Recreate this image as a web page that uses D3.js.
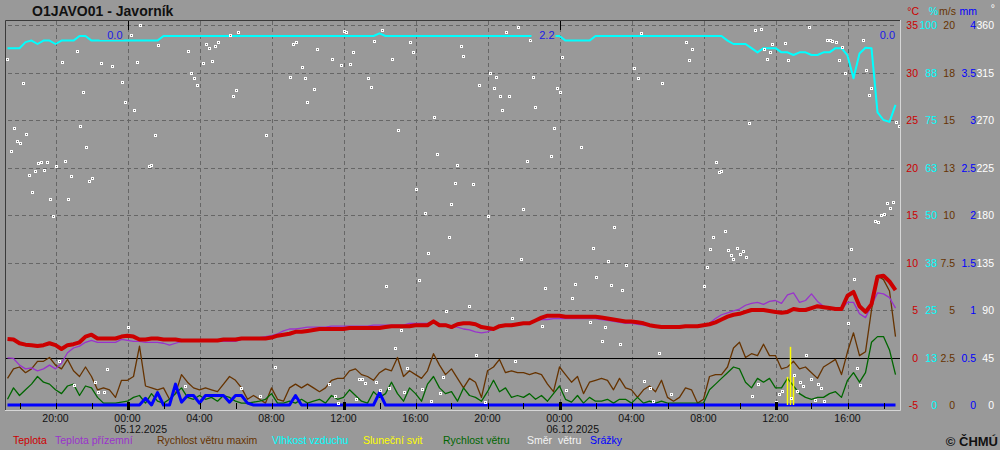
<!DOCTYPE html>
<html>
<head>
<meta charset="utf-8">
<script src="https://cdn.jsdelivr.net/npm/d3@7"></script>
<style>
body { margin: 0; background: #999999; }
svg { display: block; font-family: "Liberation Sans", Arial, sans-serif; }
</style>
</head>
<body>
<script>
// measured every 20 minutes from 04.12.2025 17:20
var startTime = "2025-12-04 17:20";
var stepMinutes = 20;

var teplota = [
  1.95, 1.9, 1.5, 1.35, 1.3, 1.2, 1.3, 1.5, 1.3, 0.9,
  1.3, 1.4, 1.6, 2.2, 2.4, 2.0, 2.0, 2.0, 2.0, 2.2,
  2.3, 2.2, 1.9, 1.9, 2.0, 2.0, 1.9, 1.9, 1.9, 1.8,
  1.8, 1.8, 1.8, 1.8, 1.8, 1.8, 1.9, 1.9, 1.9, 2.0,
  2.0, 2.0, 2.0, 2.0, 2.1, 2.3, 2.4, 2.5, 2.7, 2.7,
  2.8, 2.9, 3.0, 3.0, 3.0, 3.0, 3.0, 3.1, 3.1, 3.1,
  3.1, 3.1, 3.1, 3.2, 3.3, 3.3, 3.3, 3.3, 3.4, 3.4,
  3.4, 3.8, 3.4, 3.4, 3.2, 3.5, 3.6, 3.6, 3.5, 3.2,
  3.1, 3.0, 3.3, 3.4, 3.4, 3.5, 3.6, 3.6, 3.9, 4.2,
  4.4, 4.4, 4.4, 4.3, 4.3, 4.3, 4.3, 4.3, 4.3, 4.2,
  4.1, 4.0, 3.9, 3.8, 3.8, 3.7, 3.6, 3.4, 3.3, 3.2,
  3.2, 3.2, 3.2, 3.3, 3.3, 3.3, 3.4, 3.5, 3.7, 4.0,
  4.3, 4.5, 4.6, 4.8, 5.0, 5.0, 5.0, 4.9, 4.8, 4.7,
  4.8, 5.1, 5.0, 5.0, 5.2, 5.4, 5.3, 5.2, 5.1, 5.1,
  6.5, 6.9, 5.4, 4.8, 5.6, 8.5, 8.6, 8.0, 7.1
];
var teplotaPrizemni = [
  -0.05, -0.1, -0.8, -1.2, -1.1, -1.4, -1.2, -0.8, -1.2, -0.6,
  0.5, 1.0, 1.2, 1.6, 1.8, 1.6, 1.6, 1.6, 1.6, 1.9,
  1.8, 1.7, 1.7, 1.6, 1.6, 1.6, 1.5, 1.3, 1.5, 1.7,
  1.7, 1.7, 1.7, 1.7, 1.7, 1.7, 1.7, 1.7, 1.7, 1.9,
  1.9, 2.0, 2.1, 2.2, 2.3, 2.5, 2.8, 3.0, 3.0, 3.1,
  3.2, 3.2, 3.2, 3.2, 3.3, 3.3, 3.3, 3.3, 3.3, 3.3,
  3.3, 3.4, 3.4, 3.4, 3.4, 3.4, 3.4, 3.6, 3.6, 3.6,
  3.6, 3.7, 3.5, 3.5, 3.3, 3.2, 3.0, 2.9, 2.7, 2.6,
  2.7, 3.0, 3.3, 3.4, 3.5, 3.5, 3.6, 3.7, 3.9, 4.0,
  4.0, 4.1, 4.1, 4.1, 4.1, 4.1, 4.1, 4.1, 4.1, 4.0,
  3.9, 3.8, 3.7, 3.6, 3.6, 3.5, 3.4, 3.3, 3.2, 3.2,
  3.2, 3.2, 3.2, 3.3, 3.3, 3.3, 3.4, 3.6, 4.1, 4.5,
  4.7, 4.9, 5.1, 5.5, 5.7, 5.8, 5.6, 5.9, 6.0, 5.7,
  6.6, 6.8, 5.8, 6.0, 6.7, 5.9, 5.4, 5.2, 5.1, 5.1,
  5.8, 5.8, 4.6, 4.2, 5.5, 6.8, 6.7, 6.3, 5.2
];
var rychlostMax = [
  1.4, 1.9, 2.0, 1.7, 1.9, 2.3, 2.3, 2.5, 2.1, 1.9,
  2.4, 1.8, 1.5, 2.0, 1.5, 0.8, 0.9, 0.8, 0.4, 1.3,
  1.3, 1.5, 3.1, 1.0, 0.9, 0.8, 0.9, 0.3, 0.6, 1.6,
  1.2, 0.9, 0.8, 0.9, 0.8, 0.7, 1.1, 1.5, 1.3, 0.9,
  0.3, 0.5, 0.3, 0.1, 0.9, 0.3, 0.2, 0.9, 1.1, 0.9,
  1.1, 0.9, 0.7, 0.9, 1.3, 1.4, 1.4, 1.8, 1.9, 1.6,
  1.5, 1.3, 1.7, 1.9, 1.8, 2.5, 1.5, 1.8, 1.6, 1.4,
  1.8, 2.7, 2.1, 1.6, 1.9, 1.4, 0.9, 1.4, 1.2, 0.4,
  1.8, 2.0, 2.4, 1.7, 1.8, 1.7, 1.7, 1.6, 1.7, 1.6,
  1.1, 0.7, 2.0, 1.6, 1.2, 1.5, 0.6, 1.2, 1.3, 1.4,
  1.3, 0.8, 1.4, 0.9, 0.8, 0.4, 0.8, 1.0, 0.7, 1.3,
  0.4, 0.2, 0.4, 0.9, 0.8, 0.1, 0.3, 1.5, 1.6, 1.6,
  2.0, 3.0, 3.3, 2.5, 2.7, 2.6, 3.2, 2.6, 2.6, 1.9,
  2.0, 2.3, 1.9, 2.0, 1.7, 1.4, 2.0, 2.2, 2.4, 1.6,
  2.8, 3.8, 2.6, 2.8, 5.0, 6.8, 6.6, 6.0, 3.6
];
var rychlost = [
  0.3, 0.9, 0.5, 0.8, 1.1, 1.5, 1.2, 1.1, 0.8, 0.6,
  1.0, 1.1, 0.5, 1.0, 0.9, 0.4, 0.1, 0.1, 0.1, 0.15,
  0.2, 0.4, 0.5, 0.1, 0.6, 0.2, 0.1, 0.3, 0.6, 0.9,
  0.4, 0.3, 0.5, 0.3, 0.4, 0.2, 0.5, 0.4, 0.2, 0.1,
  0.1, 0.15, 0.2, 0.3, 0.6, 0.1, 0.1, 0.2, 0.1, 0.3,
  0.1, 0.2, 0.3, 0.1, 0.5, 0.3, 0.4, 0.8, 0.5, 0.2,
  0.1, 0.7, 0.4, 0.6, 1.2, 0.6, 0.2, 0.9, 0.6, 0.2,
  1.1, 1.5, 0.9, 0.6, 0.7, 0.2, 0.9, 0.5, 0.4, 0.2,
  0.7, 1.3, 0.7, 0.9, 0.4, 0.5, 0.4, 0.6, 0.3, 0.5,
  0.2, 0.6, 1.0, 0.3, 0.15, 0.5, 0.1, 0.4, 0.2, 0.2,
  0.3, 0.1, 0.3, 0.3, 0.1, 0.4, 0.1, 0.2, 0.1, 0.2,
  0.1, 0.1, 0.1, 0.1, 0.1, 0.1, 0.1, 0.8, 1.1, 1.4,
  1.7, 2.0, 1.9, 1.2, 0.9, 1.4, 1.2, 1.4, 0.9, 0.9,
  1.4, 1.0, 0.6, 0.4, 0.3, 0.4, 0.4, 0.6, 0.7, 0.4,
  1.3, 1.7, 1.2, 1.7, 3.3, 3.6, 3.6, 2.9, 1.6
];
var vlhkost = [
  93.9, 93.9, 93.9, 95.5, 95.9, 95.0, 95.9, 95.9, 95.0, 95.9,
  95.9, 95.9, 97.1, 97.1, 95.9, 95.9, 95.9, 95.9, 95.9, 95.9,
  95.9, 95.9, 95.9, 95.9, 95.9, 95.9, 97.1, 97.1, 97.1, 97.1,
  97.1, 97.1, 97.1, 97.1, 97.1, 97.1, 97.1, 97.1, 97.1, 97.1,
  97.1, 97.1, 97.1, 97.1, 97.1, 97.1, 97.1, 97.1, 97.1, 97.1,
  97.1, 97.1, 97.1, 97.1, 97.1, 97.1, 97.1, 97.1, 97.1, 97.1,
  97.1, 97.1, 97.8, 97.1, 97.1, 97.1, 97.1, 97.1, 97.1, 97.1,
  97.1, 97.1, 97.1, 97.1, 97.1, 97.1, 97.1, 97.1, 97.1, 97.1,
  97.1, 97.1, 97.1, 97.1, 97.1, 97.1, 97.1, 97.1, 97.1, 97.1,
  97.1, 97.1, 97.1, 95.9, 95.9, 95.9, 95.9, 95.9, 97.1, 97.1,
  97.1, 97.1, 97.1, 97.1, 97.1, 97.1, 97.1, 97.1, 97.1, 97.1,
  97.1, 97.1, 97.1, 97.1, 97.1, 97.1, 97.1, 97.1, 97.1, 97.1,
  95.9, 95.0, 95.0, 95.0, 93.9, 92.8, 93.9, 93.9, 93.9, 92.8,
  92.8, 92.1, 92.8, 92.8, 92.1, 92.1, 92.8, 92.8, 93.9, 93.9,
  92.0, 86.0, 92.5, 94.0, 93.9, 77.0, 75.0, 74.5, 79.0
];
var srazky = [
  0, 0, 0, 0, 0, 0, 0, 0, 0, 0,
  0, 0, 0, 0, 0, 0, 0, 0, 0, 0,
  0, 0, 0, 0.07, 0, 0.13, 0, 0, 0.22, 0.03,
  0.1, 0.1, 0.02, 0.1, 0.1, 0.1, 0.1, 0.03, 0.1, 0.1,
  0.02, 0, 0, 0, 0, 0, 0, 0, 0.1, 0,
  0, 0, 0, 0, 0, 0, 0, 0, 0, 0,
  0, 0, 0.13, 0, 0, 0, 0, 0, 0, 0,
  0, 0, 0, 0, 0, 0, 0, 0, 0, 0,
  0, 0, 0, 0, 0, 0, 0, 0, 0, 0,
  0, 0, 0, 0, 0, 0, 0, 0, 0, 0,
  0, 0, 0, 0, 0, 0, 0, 0, 0, 0,
  0, 0, 0, 0, 0, 0, 0, 0, 0, 0,
  0, 0, 0, 0, 0, 0, 0, 0, 0, 0,
  0, 0, 0, 0, 0, 0, 0, 0, 0, 0,
  0, 0, 0, 0, 0, 0, 0, 0, 0
];

// wind direction, 10 min readings (day hh:mm)
var smerCas = [
  "04 17:20","04 17:30","04 17:40","04 17:50","04 18:00","04 18:10","04 18:20","04 18:30","04 18:40","04 18:50",
  "04 19:00","04 19:10","04 19:20","04 19:30","04 19:40","04 19:50","04 20:00","04 20:10","04 20:20","04 20:30",
  "04 20:40","04 20:50","04 21:00","04 21:10","04 21:20","04 21:30","04 21:40","04 21:50","04 22:00","04 22:10",
  "04 22:20","04 22:30","04 22:40","04 22:50","04 23:10","04 23:40","04 23:50","05 00:00","05 00:10","05 00:20",
  "05 00:30","05 00:40","05 01:10","05 01:20","05 01:30","05 01:40","05 03:10","05 03:20","05 03:30","05 03:40",
  "05 03:50","05 04:10","05 04:20","05 04:30","05 04:40","05 04:50","05 05:00","05 05:40","05 05:50","05 06:00",
  "05 06:10","05 06:20","05 07:20","05 07:40","05 08:10","05 09:00","05 09:10","05 09:20","05 09:40","05 09:50",
  "05 10:00","05 10:20","05 10:30","05 11:10","05 11:20","05 11:30","05 11:40","05 11:50","05 12:00","05 12:10",
  "05 12:20","05 12:30","05 12:40","05 12:50","05 13:00","05 13:10","05 13:20","05 13:30","05 13:40","05 13:50",
  "05 14:00","05 14:10","05 14:20","05 14:30","05 14:40","05 14:50","05 15:00","05 15:10","05 15:20","05 15:30",
  "05 15:40","05 15:50","05 16:00","05 16:10","05 16:20","05 16:30","05 16:40","05 16:50","05 17:00","05 17:10",
  "05 17:20","05 17:30","05 17:40","05 17:50","05 18:00","05 18:10","05 18:20","05 18:30","05 18:40","05 19:00",
  "05 19:10","05 19:20","05 19:30","05 19:50","05 20:00","05 20:10","05 20:20","05 20:30","05 20:40","05 20:50",
  "05 21:00","05 21:10","05 21:20","05 21:30","05 21:40","05 21:50","05 22:00","05 22:10","05 22:20","05 22:30",
  "05 22:40","05 23:00","05 23:10","05 23:30","05 23:40","05 23:50","06 00:00","06 00:10","06 00:20","06 00:40",
  "06 00:50","06 01:10","06 01:40","06 01:50","06 02:00","06 02:20","06 02:30","06 02:40","06 02:50","06 03:00",
  "06 03:20","06 03:30","06 03:40","06 04:10","06 04:20","06 04:30","06 04:40","06 05:00","06 05:10","06 05:30",
  "06 05:40","06 06:10","06 07:00","06 07:10","06 07:20","06 08:00","06 08:10","06 08:20","06 08:30","06 08:40",
  "06 08:50","06 09:00","06 09:10","06 09:20","06 09:30","06 09:40","06 09:50","06 10:00","06 10:10","06 10:20",
  "06 10:30","06 10:40","06 10:50","06 11:00","06 11:10","06 11:20","06 11:30","06 11:40","06 11:50","06 12:00",
  "06 12:10","06 12:20","06 12:30","06 12:40","06 12:50","06 13:00","06 13:10","06 13:20","06 13:30","06 13:40",
  "06 13:50","06 14:00","06 14:10","06 14:20","06 14:30","06 14:40","06 14:50","06 15:00","06 15:10","06 15:20",
  "06 15:30","06 15:40","06 15:50","06 16:00","06 16:10","06 16:20","06 16:30","06 16:40","06 16:50","06 17:00",
  "06 17:10","06 17:20","06 17:30","06 17:40","06 17:50","06 18:00","06 18:10","06 18:20","06 18:30","06 18:40",
  "06 18:50"
];
var smer = [
  328, 241, 262, 250, 248, 305, 257, 218, 202, 222,
  229, 230, 223, 230, 195, 179, 226, 42, 325, 231,
  195, 217, 19, 335, 264, 297, 244, 212, 215, 22,
  12, 324, 12, 34, 321, 306, 287, 74, 351, 279,
  325, 360, 226, 227, 256, 341, 18, 335, 315, 310,
  303, 324, 342, 338, 326, 340, 344, 351, 293, 298,
  353, 16, 9, 256, 36, 311, 342, 344, 320, 310,
  287, 299, 337, 20, 328, 9, 2, 322, 354, 353,
  323, 334, 6, 25, 25, 21, 310, 301, 345, 22,
  14, 355, 113, 16, 328, 54, 261, 71, 12, 35,
  344, 334, 205, 118, 15, 182, 144, 4, 273, 238,
  11, 27, 89, 159, 190, 210, 227, 340, 331, 94,
  209, 47, 303, 3, 179, 315, 300, 311, 293, 279,
  353, 293, 82, 42, 358, 138, 186, 231, 346, 311,
  282, 75, 111, 236, 262, 300, 297, 330, 14, 101,
  115, 244, 79, 149, 121, 61, 74, 136, 114, 169,
  58, 109, 133, 319, 310, 352, 23, 16, 4, 49,
  305, 10, 344, 327, 337, 113, 131, 148, 159, 230,
  221, 222, 165, 147, 142, 138, 149, 143, 146, 140,
  267, 9, 355, 20, 356, 337, 328, 334, 342, 3,
  10, 13, 343, 327, 7, 28, 13, 22, 18, 47,
  358, 25, 5, 20, 16, 4, 346, 346, 345, 344,
  327, 339, 315, 78, 148, 119, 35, 19, 346, 317,
  294, 300, 174, 173, 180, 181, 191, 187, 192, 268,
  264
];

var svitCas = ["06 12:38", "06 12:48", "06 12:58"];
var svit = [0.74, 1.53, 0.74];

var srazkyDenniKonec = ["2025-12-05 00:00", "2025-12-06 00:00", "2025-12-07 00:00"];
var srazkyDenni = [0.0, 2.2, 0.0];

var legendNames = ["Teplota", "Teplota přízemní", "Rychlost větru maxim", "Vlhkost vzduchu",
                   "Sluneční svit", "Rychlost větru", "Směr  větru", "Srážky"];
var legendColors = ["#cc0000", "#9933cc", "#663300", "#00ffff", "#ffff00", "#006600", "#f4f4f4", "#0000ff"];
var legendX = [13, 55, 157, 272, 363, 443, 527, 590];

var tempTicks = d3.range(-5, 36, 5);
var humTicks = d3.range(0, 100.1, 12.5);
var windTicks = d3.range(0, 20.1, 2.5);
var rainTicks = d3.range(0, 4.01, 0.5);
var dirTicks = d3.range(0, 361, 45);

var width = 1000, height = 450;
var plotLeft = 6, plotRight = 900, plotTop = 25, plotBottom = 405;

var parseTime = d3.timeParse("%Y-%m-%d %H:%M");
var parseDay = function(s) { return parseTime("2025-12-" + s); };
var t0 = parseTime(startTime);
var times = teplota.map(function(d, i) { return d3.timeMinute.offset(t0, i * stepMinutes); });

var x = d3.scaleTime()
    .domain([parseTime("2025-12-04 17:15"), parseTime("2025-12-06 18:55")])
    .range([plotLeft, plotRight])
    .clamp(true);
var yTemp = d3.scaleLinear().domain([-5, 35]).range([plotBottom, plotTop]);
var yHum = d3.scaleLinear().domain([0, 100]).range([plotBottom, plotTop]);
var yWind = d3.scaleLinear().domain([0, 20]).range([plotBottom, plotTop]);
var yRain = d3.scaleLinear().domain([0, 4]).range([plotBottom, plotTop]);
var yDir = d3.scaleLinear().domain([0, 360]).range([plotBottom, plotTop]);
var ySun = d3.scaleLinear().domain([0, 10]).range([plotBottom, plotTop]);

var svg = d3.select("body")
    .append("svg")
    .attr("width", width)
    .attr("height", height);

svg.append("rect")
    .attr("width", width)
    .attr("height", height)
    .attr("fill", "#999999");

// grid
var grid = svg.append("g").attr("stroke", "#666666").attr("stroke-dasharray", "4,3");
grid.selectAll("line.h")
    .data(tempTicks.filter(function(d) { return d > 0; }))
    .enter().append("line")
    .attr("x1", plotLeft + 2).attr("x2", plotRight - 3)
    .attr("y1", function(d) { return Math.round(yTemp(d)) + 0.5; })
    .attr("y2", function(d) { return Math.round(yTemp(d)) + 0.5; });
grid.selectAll("line.v")
    .data(x.ticks(d3.timeHour.every(4)))
    .enter().append("line")
    .attr("x1", function(d) { return Math.round(x(d)) + 0.5; })
    .attr("x2", function(d) { return Math.round(x(d)) + 0.5; })
    .attr("y1", 21).attr("y2", plotBottom);

svg.append("line")
    .attr("x1", plotLeft).attr("x2", plotRight)
    .attr("y1", Math.round(yTemp(0)) + 0.5).attr("y2", Math.round(yTemp(0)) + 0.5)
    .attr("stroke", "#000");

function series(values, yScale, color, w) {
    var line = d3.line()
        .x(function(d, i) { return x(times[i]); })
        .y(function(d) { return yScale(d); });
    svg.append("path")
        .datum(values)
        .attr("d", line)
        .attr("fill", "none")
        .attr("stroke", color)
        .attr("stroke-width", w)
        .attr("stroke-linejoin", "round");
}

series(vlhkost, yHum, "#00ffff", 2);
series(rychlostMax, yWind, "#663300", 1.3);
series(rychlost, yWind, "#006600", 1.3);
series(teplotaPrizemni, yTemp, "#9933cc", 1.3);
series(teplota, yTemp, "#cc0000", 4);
series(srazky, yRain, "#0000ff", 3);

// sunshine stems
svg.append("g").selectAll("line")
    .data(svit)
    .enter().append("line")
    .attr("x1", function(d, i) { return Math.round(x(parseDay(svitCas[i]))) + 0.5; })
    .attr("x2", function(d, i) { return Math.round(x(parseDay(svitCas[i]))) + 0.5; })
    .attr("y1", ySun(0))
    .attr("y2", function(d) { return ySun(d); })
    .attr("stroke", "#ffff00")
    .attr("stroke-width", 1.5);

// wind direction dots
svg.append("g").selectAll("rect")
    .data(smer)
    .enter().append("rect")
    .attr("x", function(d, i) { return Math.round(x(parseDay(smerCas[i]))) - 0.5; })
    .attr("y", function(d) { return Math.round(yDir(d)) - 0.5; })
    .attr("width", 2).attr("height", 2)
    .attr("fill", "#666666")
    .attr("stroke", "#ffffff")
    .attr("stroke-width", 1);

// daily rain totals
var totals = svg.append("g").selectAll("g")
    .data(srazkyDenni)
    .enter().append("g")
    .attr("transform", function(d, i) {
        return "translate(" + (x(parseTime(srazkyDenniKonec[i])) - 5) + ",0)";
    });
totals.append("rect")
    .attr("x", -23).attr("y", 28).attr("width", 24).attr("height", 12)
    .attr("fill", "#999999");
totals.append("text")
    .attr("text-anchor", "end")
    .attr("y", 38.5)
    .attr("font-size", 11)
    .attr("fill", "#1a1ae6")
    .text(function(d) { return d.toFixed(1); });

// midnight marks at top
svg.append("g").selectAll("line")
    .data(x.ticks(d3.timeDay.every(1)))
    .enter().append("line")
    .attr("x1", function(d) { return Math.round(x(d)) + 0.5; })
    .attr("x2", function(d) { return Math.round(x(d)) + 0.5; })
    .attr("y1", 21).attr("y2", 30)
    .attr("stroke", "#000");

// frame
svg.append("path").attr("d", "M5.5,410 V20.5 H900").attr("fill", "none").attr("stroke", "#3a3a3a");
svg.append("path").attr("d", "M900.5,20 V410.5 H5").attr("fill", "none").attr("stroke", "#d6d6d6");

// time axis
svg.append("g").selectAll("line")
    .data(x.ticks(d3.timeHour.every(2)))
    .enter().append("line")
    .attr("x1", function(d) { return Math.round(x(d)) + 0.5; })
    .attr("x2", function(d) { return Math.round(x(d)) + 0.5; })
    .attr("y1", function(d) { return d.getHours() % 12 == 0 ? 402 : 403; })
    .attr("y2", function(d) { return d.getHours() % 12 == 0 ? 410 : 409; })
    .attr("stroke", "#000")
    .attr("stroke-width", function(d) { return d.getHours() % 12 == 0 ? 3 : 1; });

var fmtHour = d3.timeFormat("%H:%M"), fmtDate = d3.timeFormat("%d.%m.%Y");
svg.append("g").selectAll("text")
    .data(x.ticks(d3.timeHour.every(4)))
    .enter().append("text")
    .attr("x", function(d) { return x(d); })
    .attr("y", 421.5)
    .attr("text-anchor", "middle")
    .attr("font-size", 10.5)
    .attr("fill", "#111")
    .text(fmtHour);
svg.append("g").selectAll("text")
    .data(x.ticks(d3.timeDay.every(1)))
    .enter().append("text")
    .attr("x", function(d) { return x(d) - 13; })
    .attr("y", 432.5)
    .attr("font-size", 10.5)
    .attr("fill", "#111")
    .text(fmtDate);

// right hand scales
var twoDigits = function(v) { return String(+v.toPrecision(2)); };
var columns = [
    {ticks: tempTicks, scale: yTemp, x: 918, color: "#cc0000", unit: "°C", fmt: String},
    {ticks: humTicks, scale: yHum, x: 937, color: "#00ffff", unit: "%", fmt: twoDigits},
    {ticks: windTicks, scale: yWind, x: 955, color: "#663300", unit: "m/s", fmt: twoDigits},
    {ticks: rainTicks, scale: yRain, x: 976, color: "#0000ff", unit: "mm", fmt: String},
    {ticks: dirTicks, scale: yDir, x: 994, color: "#ffffff", unit: "°", fmt: String}
];
columns.forEach(function(c) {
    var g = svg.append("g")
        .attr("fill", c.color)
        .attr("font-size", 10.5)
        .attr("text-anchor", "end");
    g.selectAll("text")
        .data(c.ticks)
        .enter().append("text")
        .attr("x", c.x)
        .attr("y", function(d) { return c.scale(d) + 4; })
        .text(c.fmt);
    g.append("text")
        .attr("x", c.x + 1)
        .attr("y", c.unit == "°" ? 12 : 15)
        .text(c.unit);
});

// title, legend
svg.append("text")
    .attr("x", 32).attr("y", 16)
    .attr("font-size", 14)
    .attr("font-weight", "bold")
    .attr("fill", "#111")
    .text("O1JAVO01 - Javorník");

svg.append("g").selectAll("text")
    .data(legendNames)
    .enter().append("text")
    .attr("x", function(d, i) { return legendX[i]; })
    .attr("y", 444)
    .attr("font-size", 10.5)
    .attr("fill", function(d, i) { return legendColors[i]; })
    .style("white-space", "pre")
    .text(function(d) { return d; });

svg.append("text")
    .attr("x", 998).attr("y", 446)
    .attr("text-anchor", "end")
    .attr("font-size", 13)
    .attr("font-weight", "bold")
    .attr("fill", "#111")
    .text("© ČHMÚ");
</script>
</body>
</html>
